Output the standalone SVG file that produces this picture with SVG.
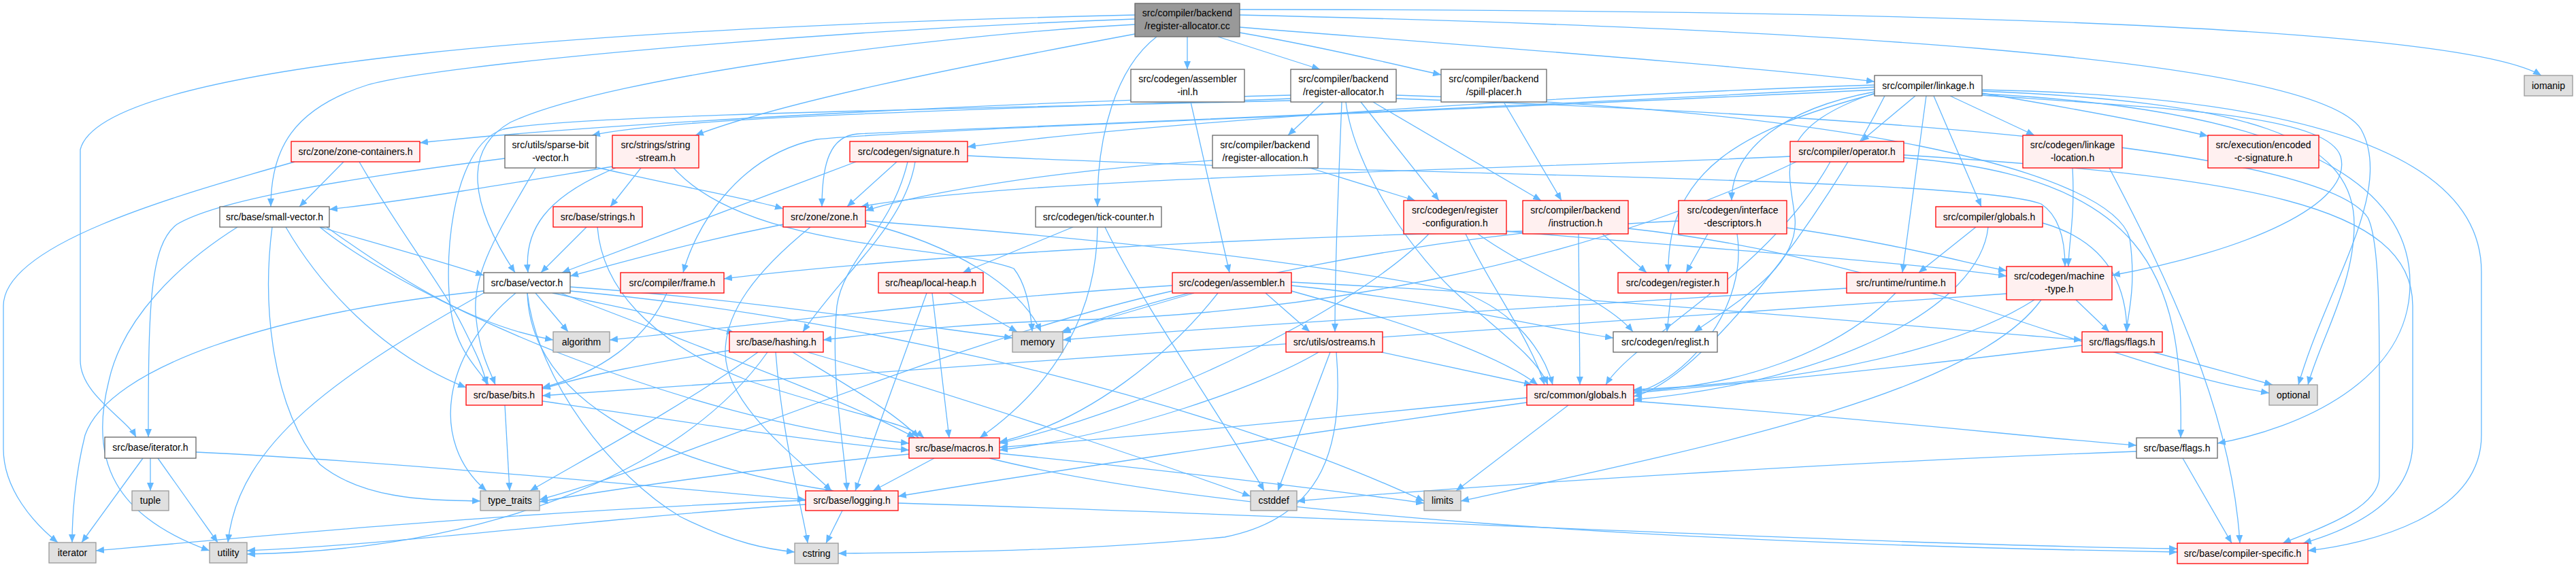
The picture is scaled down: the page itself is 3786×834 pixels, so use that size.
<svg xmlns="http://www.w3.org/2000/svg" width="3786" height="834" viewBox="0 0 3786 834">
<defs>
<style>
.e{fill:none;stroke:#63b8ff;stroke-width:1.3;marker-end:url(#a)}
.n rect{stroke-width:1.3}
.top rect{fill:#999999;stroke:#666666}
.red rect{fill:#fff0f0;stroke:#ff0000}
.wh rect{fill:#ffffff;stroke:#666666}
.sys rect{fill:#e0e0e0;stroke:#999999}
text{font-family:"Liberation Sans",Arial,sans-serif;font-size:14px;fill:#000;text-anchor:middle}
</style>
<marker id="a" markerWidth="12" markerHeight="10" refX="12" refY="5" orient="auto" markerUnits="userSpaceOnUse"><path d="M0,0 L12,5 L0,10 z" fill="#63b8ff"/></marker>
</defs>
<rect width="3786" height="834" fill="#ffffff"/>
<g id="edges">
<path class="e" d="M1790,54 L1940,102"/>
<path class="e" d="M1822,14 C2600,14 3600,30 3735,111"/>
<path class="e" d="M1822,22 C2600,40 3400,80 3470,190 C3520,280 3420,420 3378,566"/>
<path class="e" d="M1668,22 C900,40 150,90 118,220 L118,530 C118,580 185,615 200,643"/>
<path class="e" d="M1668,28 C1200,45 640,95 540,125 C430,160 398,220 398,304"/>
<path class="e" d="M1668,36 C1400,50 900,110 750,180 C680,220 690,300 757,401"/>
<path class="e" d="M1745,54 L1745,102"/>
<path class="e" d="M1700,54 C1640,100 1612,200 1613,304"/>
<path class="e" d="M1822,48 C1950,70 2050,95 2118,110"/>
<path class="e" d="M1822,40 C2200,70 2600,100 2755,120"/>
<path class="e" d="M1668,50 C1400,100 1150,150 1022,199"/>
<path class="e" d="M1750,150 L1807,401"/>
<path class="e" d="M1897,140 C1500,150 900,180 617,210"/>
<path class="e" d="M1897,145 C1500,160 1000,170 870,199"/>
<path class="e" d="M1945,150 L1893,199"/>
<path class="e" d="M2000,150 L2115,295"/>
<path class="e" d="M2018,150 L2265,295"/>
<path class="e" d="M1978,150 C1990,250 2080,380 2150,440 C2220,500 2260,530 2275,566"/>
<path class="e" d="M1972,150 C1966,300 1962,400 1962,488"/>
<path class="e" d="M1897,148 C1400,160 820,170 740,190 C660,215 650,400 665,470 C675,520 705,545 718,566"/>
<path class="e" d="M2052,145 C2900,175 3420,230 3480,320 C3500,360 3497,500 3497,700 C3497,750 3400,780 3355,799"/>
<path class="e" d="M2052,140 C2700,160 3100,250 3130,350 C3140,420 3128,460 3125,488"/>
<path class="e" d="M2210,150 L2295,295"/>
<path class="e" d="M2755,125 C2300,140 1700,180 1422,216"/>
<path class="e" d="M2755,128 C2200,160 1400,190 1260,197 C1220,200 1208,240 1208,304"/>
<path class="e" d="M2755,132 C2100,165 1350,190 1200,205 C1080,230 1020,340 1004,401"/>
<path class="e" d="M2815,141 L2735,208"/>
<path class="e" d="M2755,135 C2620,160 2545,220 2545,295"/>
<path class="e" d="M2831,141 L2796,401"/>
<path class="e" d="M2842,141 L2912,304"/>
<path class="e" d="M2866,141 L2990,199"/>
<path class="e" d="M2913,137 C3050,160 3180,185 3245,200"/>
<path class="e" d="M2913,140 C3200,160 3420,170 3440,230 C3460,300 3300,370 3104,405"/>
<path class="e" d="M2755,138 C2560,190 2450,250 2452,401"/>
<path class="e" d="M2755,137 C2600,190 2630,250 2638,320 C2645,390 2560,440 2490,488"/>
<path class="e" d="M2770,141 C2680,320 2500,560 2401,583"/>
<path class="e" d="M2913,134 C3300,150 3460,200 3460,330 C3460,420 3410,500 3392,566"/>
<path class="e" d="M2913,138 C3350,160 3545,260 3542,420 C3540,560 3380,630 3259,652"/>
<path class="e" d="M2913,132 C3300,140 3647,200 3647,400 L3647,640 C3647,760 3480,800 3392,810"/>
<path class="e" d="M2631,230 C2200,250 1500,260 1265,304"/>
<path class="e" d="M2640,238 C2300,400 1900,460 1600,470 C1400,476 1300,490 1210,500"/>
<path class="e" d="M2690,238 C2600,400 2400,500 2360,566"/>
<path class="e" d="M2798,232 C3150,260 3210,400 3205,644"/>
<path class="e" d="M2798,228 C3300,260 3546,300 3546,450 L3546,650 C3546,740 3450,780 3385,799"/>
<path class="e" d="M1782,236 C1550,250 1350,285 1272,310"/>
<path class="e" d="M1925,247 L2080,295"/>
<path class="e" d="M2214,340 C2500,365 2800,385 2949,406"/>
<path class="e" d="M2172,344 C2250,400 2360,440 2400,488"/>
<path class="e" d="M2154,344 C2190,420 2250,500 2270,566"/>
<path class="e" d="M2100,344 C2000,450 1700,600 1469,652"/>
<path class="e" d="M2238,340 C1800,350 1300,380 1064,410"/>
<path class="e" d="M2355,344 L2420,401"/>
<path class="e" d="M2320,344 L2322,566"/>
<path class="e" d="M2393,336 C2800,380 3100,540 3335,578"/>
<path class="e" d="M2510,344 L2478,401"/>
<path class="e" d="M2626,335 C2800,360 2900,390 2949,398"/>
<path class="e" d="M2553,344 C2570,450 2480,560 2401,578"/>
<path class="e" d="M2467,325 C2100,340 1700,430 1562,490"/>
<path class="e" d="M3046,247 C3050,320 3040,360 3040,392"/>
<path class="e" d="M3100,247 C3180,400 3280,600 3292,799"/>
<path class="e" d="M470,334 C560,360 650,385 711,405"/>
<path class="e" d="M480,334 C600,420 700,480 813,500"/>
<path class="e" d="M400,334 C385,450 400,600 470,683 C540,740 650,735 706,737"/>
<path class="e" d="M349,334 C260,390 180,470 160,560 C130,680 170,760 308,810"/>
<path class="e" d="M420,334 C470,420 560,520 685,570"/>
<path class="e" d="M470,334 C600,440 1000,620 1336,652"/>
<path class="e" d="M862,334 L795,401"/>
<path class="e" d="M878,334 C885,420 950,500 1100,560 C1250,610 1330,620 1358,644"/>
<path class="e" d="M1151,330 C1000,360 900,390 838,406"/>
<path class="e" d="M1191,334 C1110,400 1065,460 1066,520 C1068,600 1180,680 1222,722"/>
<path class="e" d="M1272,325 C1600,350 1900,380 2150,430 C2230,460 2270,520 2282,566"/>
<path class="e" d="M1272,328 C1400,360 1500,420 1530,488"/>
<path class="e" d="M1577,334 L1415,401"/>
<path class="e" d="M1613,334 C1612,450 1560,560 1440,644"/>
<path class="e" d="M1624,334 C1680,450 1800,620 1858,722"/>
<path class="e" d="M2904,334 L2820,401"/>
<path class="e" d="M2922,334 C2910,450 2700,560 2401,588"/>
<path class="e" d="M3002,328 C3080,350 3125,400 3126,488"/>
<path class="e" d="M787,431 L835,488"/>
<path class="e" d="M812,431 C900,450 1000,470 1080,490"/>
<path class="e" d="M775,431 C790,560 900,700 1000,760 C1080,800 1130,808 1168,812"/>
<path class="e" d="M711,428 C400,460 160,540 125,640 C110,700 106,760 106,798"/>
<path class="e" d="M838,428 C1300,470 1800,600 2093,737"/>
<path class="e" d="M838,422 C1100,440 1350,480 1488,497"/>
<path class="e" d="M758,431 C650,520 630,650 715,722"/>
<path class="e" d="M775,431 C780,580 950,680 1225,722"/>
<path class="e" d="M824,431 C1000,500 1250,590 1345,644"/>
<path class="e" d="M711,431 C500,550 350,650 335,798"/>
<path class="e" d="M980,431 C950,500 880,550 797,570"/>
<path class="e" d="M1395,431 L1495,488"/>
<path class="e" d="M1370,431 L1395,644"/>
<path class="e" d="M1362,431 L1257,722"/>
<path class="e" d="M1723,420 C1400,440 1100,480 896,500"/>
<path class="e" d="M1755,431 L1560,488"/>
<path class="e" d="M1723,428 C1400,500 1000,680 793,735"/>
<path class="e" d="M1790,431 C1720,520 1600,620 1469,650"/>
<path class="e" d="M1898,420 C2100,440 2250,480 2371,497"/>
<path class="e" d="M1898,428 C2050,470 2200,520 2260,566"/>
<path class="e" d="M1860,431 L1925,488"/>
<path class="e" d="M1898,415 C2400,440 2800,480 3060,500"/>
<path class="e" d="M2456,431 L2450,488"/>
<path class="e" d="M2786,431 C2700,520 2550,570 2401,575"/>
<path class="e" d="M2714,424 C2300,450 1800,480 1562,500"/>
<path class="e" d="M2949,432 C2000,500 1200,560 797,582"/>
<path class="e" d="M2990,441 C2850,530 2600,565 2401,573"/>
<path class="e" d="M3000,441 C2900,580 2500,660 2147,737"/>
<path class="e" d="M3051,441 L3100,488"/>
<path class="e" d="M1075,515 C950,535 870,550 797,572"/>
<path class="e" d="M1114,518 C1000,600 850,680 779,722"/>
<path class="e" d="M1128,518 C1000,700 700,810 363,815"/>
<path class="e" d="M1140,518 C1150,650 1180,750 1187,799"/>
<path class="e" d="M1165,518 C1250,570 1320,610 1350,644"/>
<path class="e" d="M1187,518 C1400,580 1700,680 1838,730"/>
<path class="e" d="M1938,518 C1850,570 1650,640 1469,662"/>
<path class="e" d="M1955,518 L1878,722"/>
<path class="e" d="M1964,518 C1975,650 1950,760 1800,790 C1600,810 1400,812 1232,814"/>
<path class="e" d="M2030,518 L2252,566"/>
<path class="e" d="M3165,518 L3340,566"/>
<path class="e" d="M3060,508 C2800,540 2550,565 2401,578"/>
<path class="e" d="M742,596 L749,722"/>
<path class="e" d="M797,590 C1000,620 1200,650 1336,662"/>
<path class="e" d="M2244,585 C2000,610 1700,640 1469,658"/>
<path class="e" d="M2244,592 C1900,640 1500,700 1320,730"/>
<path class="e" d="M2305,596 L2140,722"/>
<path class="e" d="M2401,590 C2800,620 3000,645 3140,655"/>
<path class="e" d="M210,674 L120,798"/>
<path class="e" d="M221,674 L221,722"/>
<path class="e" d="M232,674 L320,798"/>
<path class="e" d="M288,665 C600,680 1000,720 1184,735"/>
<path class="e" d="M1373,674 L1283,722"/>
<path class="e" d="M1336,668 C1100,690 900,720 793,738"/>
<path class="e" d="M1469,667 C1700,690 1950,720 2093,740"/>
<path class="e" d="M1454,674 C1800,760 2500,800 3200,812"/>
<path class="e" d="M1320,740 C2000,760 2700,800 3200,807"/>
<path class="e" d="M1184,742 C900,760 600,800 363,810"/>
<path class="e" d="M1184,736 C800,750 420,785 141,810"/>
<path class="e" d="M1238,751 L1214,799"/>
<path class="e" d="M3208,674 L3280,799"/>
<path class="e" d="M3140,664 C2700,680 2200,712 1906,737"/>
<path class="e" d="M1318,238 L1245,304"/>
<path class="e" d="M1258,238 L826,401"/>
<path class="e" d="M1345,238 C1330,330 1240,400 1180,488"/>
<path class="e" d="M1334,238 C1310,340 1240,380 1230,450 C1220,550 1240,650 1245,722"/>
<path class="e" d="M1422,229 C2000,258 2900,260 3000,300 C3030,320 3035,360 3035,392"/>
<path class="e" d="M900,245 C750,270 600,295 484,308"/>
<path class="e" d="M942,247 L897,304"/>
<path class="e" d="M905,247 C800,290 770,340 776,401"/>
<path class="e" d="M990,247 C1100,370 1400,360 1490,395 C1510,420 1515,460 1517,488"/>
<path class="e" d="M505,238 L440,304"/>
<path class="e" d="M433,238 C250,290 5,360 5,450 L5,660 C5,720 50,770 85,798"/>
<path class="e" d="M528,238 C580,330 650,420 680,480 C700,520 712,545 715,566"/>
<path class="e" d="M742,233 C450,270 310,300 260,330 C220,360 218,450 218,643"/>
<path class="e" d="M876,246 C1000,275 1100,292 1151,307"/>
<path class="e" d="M787,247 C740,330 690,400 700,470 C705,520 720,545 728,566"/>
</g>
<g id="n_cc" class="n top"><rect x="1668" y="5" width="154" height="49"/><text x="1745" y="24">src/compiler/backend</text><text x="1745" y="43">/register-allocator.cc</text></g>
<g id="n_asminl" class="n wh"><rect x="1662" y="102" width="167" height="48"/><text x="1745.5" y="121">src/codegen/assembler</text><text x="1745.5" y="140">-inl.h</text></g>
<g id="n_rah" class="n wh"><rect x="1897" y="102" width="155" height="48"/><text x="1974.5" y="121">src/compiler/backend</text><text x="1974.5" y="140">/register-allocator.h</text></g>
<g id="n_spill" class="n wh"><rect x="2118" y="102" width="155" height="48"/><text x="2195.5" y="121">src/compiler/backend</text><text x="2195.5" y="140">/spill-placer.h</text></g>
<g id="n_linkage" class="n wh"><rect x="2755" y="111" width="158" height="30"/><text x="2834" y="131">src/compiler/linkage.h</text></g>
<g id="n_iomanip" class="n sys"><rect x="3710" y="111" width="71" height="30"/><text x="3745.5" y="131">iomanip</text></g>
<g id="n_zc" class="n red"><rect x="428" y="208" width="189" height="30"/><text x="522.5" y="228">src/zone/zone-containers.h</text></g>
<g id="n_sbv" class="n wh"><rect x="742" y="199" width="134" height="48"/><text x="809" y="218">src/utils/sparse-bit</text><text x="809" y="237">-vector.h</text></g>
<g id="n_ss" class="n red"><rect x="900" y="199" width="127" height="48"/><text x="963.5" y="218">src/strings/string</text><text x="963.5" y="237">-stream.h</text></g>
<g id="n_sig" class="n red"><rect x="1249" y="208" width="173" height="30"/><text x="1335.5" y="228">src/codegen/signature.h</text></g>
<g id="n_ralloc" class="n wh"><rect x="1782" y="199" width="155" height="48"/><text x="1859.5" y="218">src/compiler/backend</text><text x="1859.5" y="237">/register-allocation.h</text></g>
<g id="n_op" class="n red"><rect x="2631" y="208" width="167" height="30"/><text x="2714.5" y="228">src/compiler/operator.h</text></g>
<g id="n_rc" class="n red"><rect x="2063" y="295" width="151" height="49"/><text x="2138.5" y="314">src/codegen/register</text><text x="2138.5" y="333">-configuration.h</text></g>
<g id="n_ins" class="n red"><rect x="2238" y="295" width="155" height="49"/><text x="2315.5" y="314">src/compiler/backend</text><text x="2315.5" y="333">/instruction.h</text></g>
<g id="n_idesc" class="n red"><rect x="2467" y="295" width="159" height="49"/><text x="2546.5" y="314">src/codegen/interface</text><text x="2546.5" y="333">-descriptors.h</text></g>
<g id="n_lloc" class="n red"><rect x="2973" y="199" width="146" height="48"/><text x="3046" y="218">src/codegen/linkage</text><text x="3046" y="237">-location.h</text></g>
<g id="n_ecs" class="n red"><rect x="3245" y="199" width="163" height="48"/><text x="3326.5" y="218">src/execution/encoded</text><text x="3326.5" y="237">-c-signature.h</text></g>
<g id="n_sv" class="n wh"><rect x="323" y="304" width="161" height="30"/><text x="403.5" y="324">src/base/small-vector.h</text></g>
<g id="n_strings" class="n red"><rect x="813" y="304" width="131" height="30"/><text x="878.5" y="324">src/base/strings.h</text></g>
<g id="n_zone" class="n red"><rect x="1151" y="304" width="121" height="30"/><text x="1211.5" y="324">src/zone/zone.h</text></g>
<g id="n_tick" class="n wh"><rect x="1522" y="304" width="185" height="30"/><text x="1614.5" y="324">src/codegen/tick-counter.h</text></g>
<g id="n_cglob" class="n red"><rect x="2845" y="304" width="157" height="30"/><text x="2923.5" y="324">src/compiler/globals.h</text></g>
<g id="n_vec" class="n wh"><rect x="711" y="401" width="127" height="30"/><text x="774.5" y="421">src/base/vector.h</text></g>
<g id="n_frame" class="n red"><rect x="912" y="401" width="152" height="30"/><text x="988" y="421">src/compiler/frame.h</text></g>
<g id="n_lheap" class="n red"><rect x="1291" y="401" width="154" height="30"/><text x="1368" y="421">src/heap/local-heap.h</text></g>
<g id="n_asm" class="n red"><rect x="1723" y="401" width="175" height="30"/><text x="1810.5" y="421">src/codegen/assembler.h</text></g>
<g id="n_reg" class="n red"><rect x="2378" y="401" width="161" height="30"/><text x="2458.5" y="421">src/codegen/register.h</text></g>
<g id="n_rt" class="n red"><rect x="2714" y="401" width="160" height="30"/><text x="2794" y="421">src/runtime/runtime.h</text></g>
<g id="n_mt" class="n red"><rect x="2949" y="392" width="155" height="49"/><text x="3026.5" y="411">src/codegen/machine</text><text x="3026.5" y="430">-type.h</text></g>
<g id="n_algo" class="n sys"><rect x="813" y="488" width="83" height="30"/><text x="854.5" y="508">algorithm</text></g>
<g id="n_hash" class="n red"><rect x="1072" y="488" width="138" height="30"/><text x="1141" y="508">src/base/hashing.h</text></g>
<g id="n_mem" class="n sys"><rect x="1488" y="488" width="74" height="30"/><text x="1525" y="508">memory</text></g>
<g id="n_ost" class="n red"><rect x="1890" y="488" width="142" height="30"/><text x="1961" y="508">src/utils/ostreams.h</text></g>
<g id="n_rl" class="n wh"><rect x="2371" y="488" width="153" height="30"/><text x="2447.5" y="508">src/codegen/reglist.h</text></g>
<g id="n_ff" class="n red"><rect x="3060" y="488" width="118" height="30"/><text x="3119" y="508">src/flags/flags.h</text></g>
<g id="n_bits" class="n red"><rect x="685" y="566" width="112" height="30"/><text x="741" y="586">src/base/bits.h</text></g>
<g id="n_cg" class="n red"><rect x="2244" y="566" width="157" height="30"/><text x="2322.5" y="586">src/common/globals.h</text></g>
<g id="n_opt" class="n sys"><rect x="3335" y="566" width="71" height="30"/><text x="3370.5" y="586">optional</text></g>
<g id="n_ith" class="n wh"><rect x="154" y="643" width="134" height="31"/><text x="221" y="663">src/base/iterator.h</text></g>
<g id="n_mac" class="n red"><rect x="1336" y="644" width="133" height="30"/><text x="1402.5" y="664">src/base/macros.h</text></g>
<g id="n_bf" class="n wh"><rect x="3140" y="644" width="119" height="30"/><text x="3199.5" y="664">src/base/flags.h</text></g>
<g id="n_tuple" class="n sys"><rect x="194" y="722" width="54" height="29"/><text x="221" y="741">tuple</text></g>
<g id="n_tt" class="n sys"><rect x="706" y="722" width="87" height="29"/><text x="749.5" y="741">type_traits</text></g>
<g id="n_log" class="n red"><rect x="1184" y="722" width="136" height="29"/><text x="1252" y="741">src/base/logging.h</text></g>
<g id="n_cdef" class="n sys"><rect x="1838" y="722" width="68" height="29"/><text x="1872" y="741">cstddef</text></g>
<g id="n_lim" class="n sys"><rect x="2093" y="722" width="54" height="29"/><text x="2120" y="741">limits</text></g>
<g id="n_itr" class="n sys"><rect x="72" y="798" width="69" height="30"/><text x="106.5" y="818">iterator</text></g>
<g id="n_util" class="n sys"><rect x="308" y="798" width="55" height="30"/><text x="335.5" y="818">utility</text></g>
<g id="n_cstr" class="n sys"><rect x="1168" y="799" width="64" height="30"/><text x="1200" y="819">cstring</text></g>
<g id="n_cs" class="n red"><rect x="3200" y="799" width="192" height="30"/><text x="3296" y="819">src/base/compiler-specific.h</text></g>
</svg>
